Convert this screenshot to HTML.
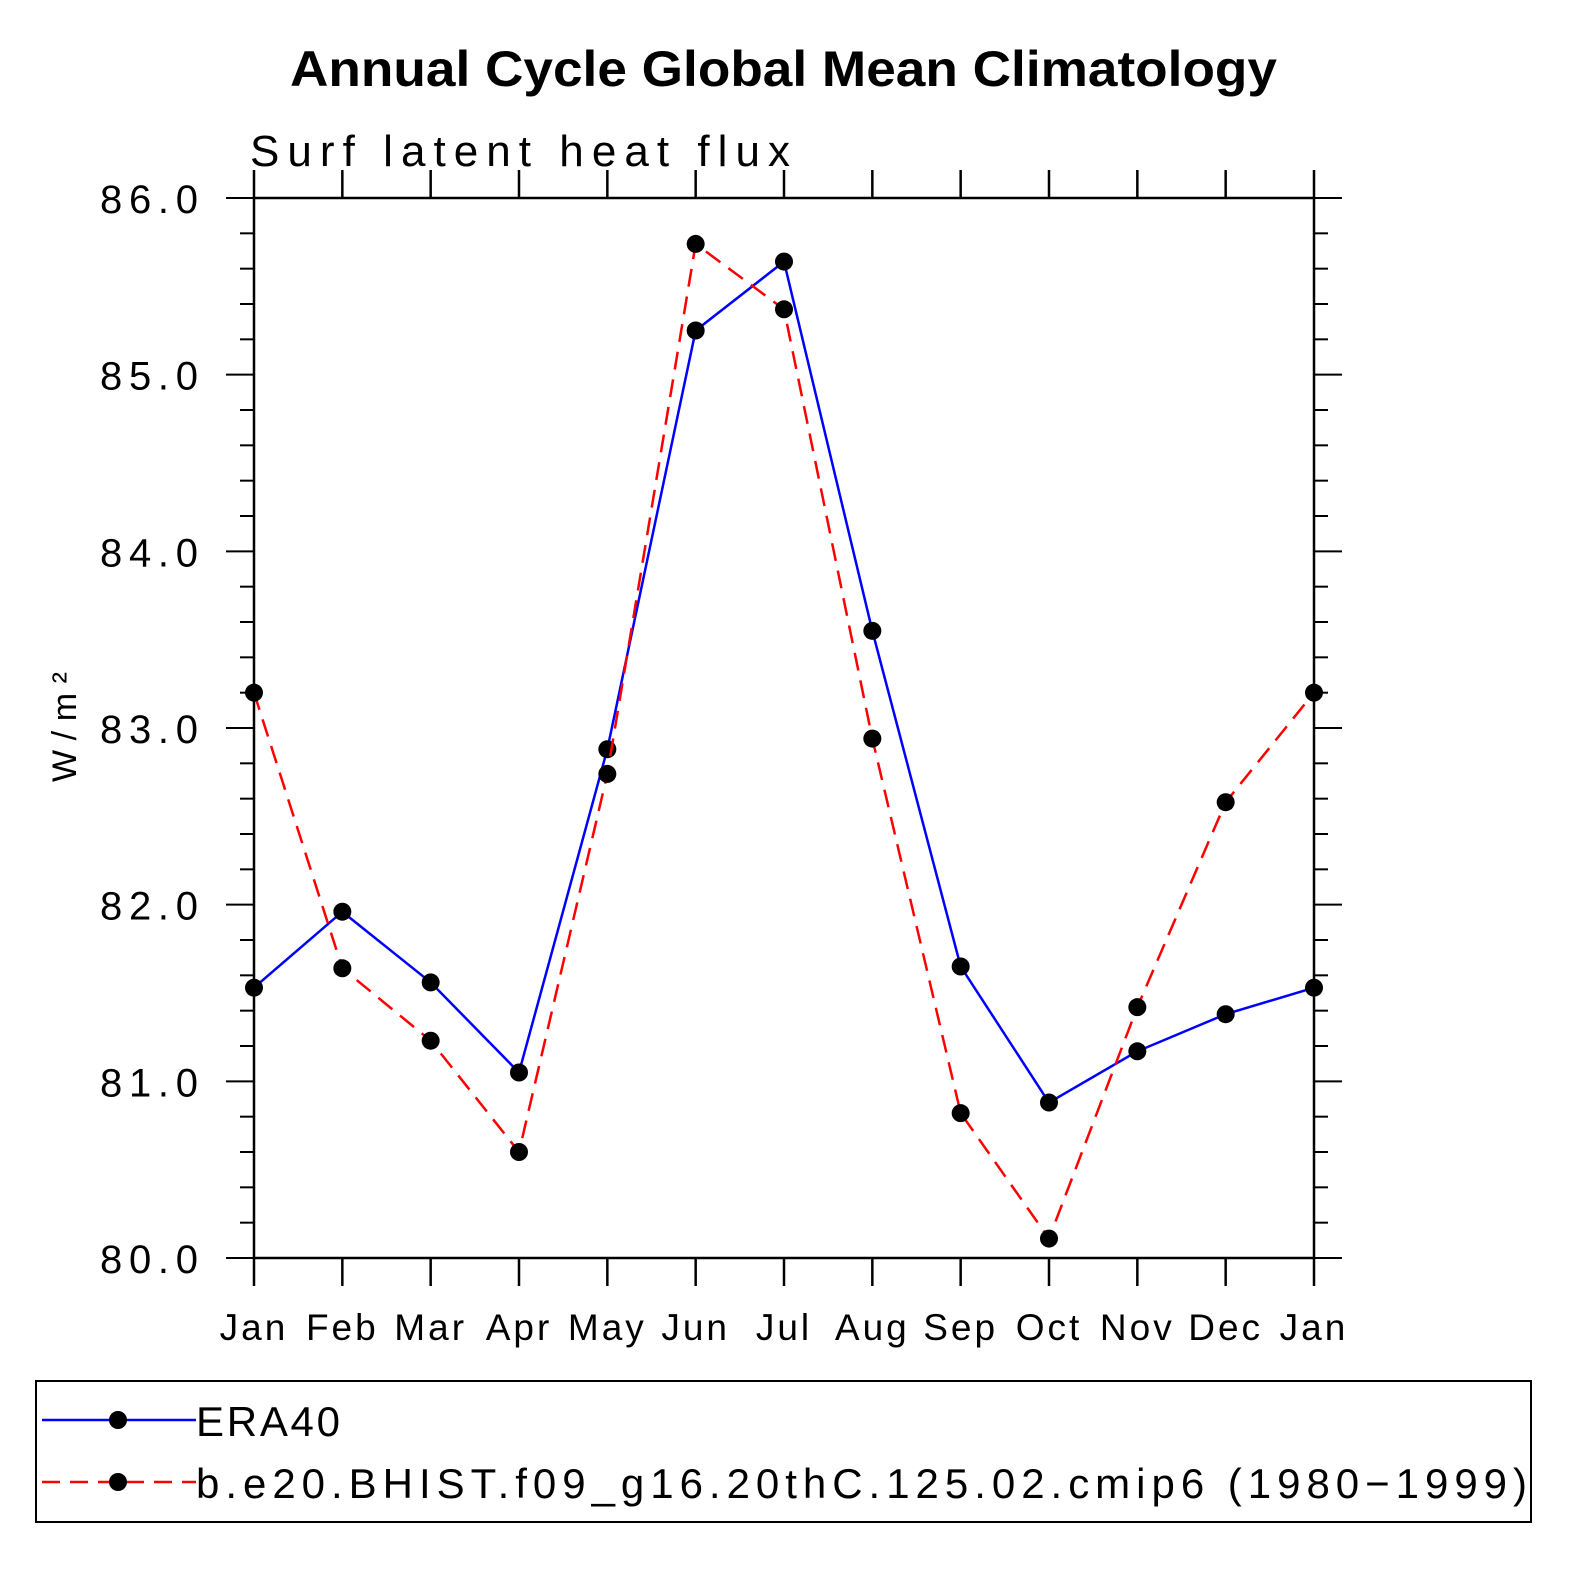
<!DOCTYPE html>
<html><head><meta charset="utf-8"><style>
html,body{margin:0;padding:0;background:#fff;}
svg{display:block;}
text{font-family:"Liberation Sans",sans-serif;}
</style></head><body>
<svg id="chart" width="1574" height="1574" viewBox="0 0 1574 1574" xmlns="http://www.w3.org/2000/svg">
<text x="290" y="86" font-size="50" font-weight="bold" textLength="987" lengthAdjust="spacingAndGlyphs">Annual Cycle Global Mean Climatology</text>
<text x="250" y="166" font-size="44" textLength="540" lengthAdjust="spacing">Surf latent heat flux</text>
<text transform="translate(76,782) rotate(-90)" font-size="34" textLength="110" lengthAdjust="spacing">W/m²</text>
<g id="axes"></g>
<g id="series"></g>
<rect x="36" y="1381" width="1495" height="141" fill="none" stroke="#000" stroke-width="2"/>
<g>
<line x1="42" y1="1420" x2="196" y2="1420" stroke="#00f" stroke-width="2.5"/>
<circle cx="118" cy="1420" r="9"/>
<text x="196" y="1436" font-size="42" textLength="144" lengthAdjust="spacing">ERA40</text>
</g>
<g>
<line x1="42" y1="1482" x2="196" y2="1482" stroke="#f00" stroke-width="2.5" stroke-dasharray="18,10"/>
<circle cx="118" cy="1482" r="9"/>
<text x="196" y="1498" font-size="42" textLength="1331" lengthAdjust="spacing">b.e20.BHIST.f09_g16.20thC.125.02.cmip6 (1980−1999)</text>
</g>
</svg>
<script>
const months = ["Jan","Feb","Mar","Apr","May","Jun","Jul","Aug","Sep","Oct","Nov","Dec","Jan"];
const era40 = [81.53,81.96,81.56,81.05,82.88,85.25,85.64,83.55,81.65,80.88,81.17,81.38,81.53];
const model = [83.20,81.64,81.23,80.60,82.74,85.74,85.37,82.94,80.82,80.11,81.42,82.58,83.20];
const yTicks = [80,81,82,83,84,85,86];
const NS="http://www.w3.org/2000/svg";
const X0=254,X1=1314,Y0=1258,Y1=198,ymin=80,ymax=86;
const xs=i=>X0+(X1-X0)*i/(months.length-1);
const ys=v=>Y0-(v-ymin)/(ymax-ymin)*(Y0-Y1);
function mk(tag,attrs,parent){const e=document.createElementNS(NS,tag);for(const k in attrs)e.setAttribute(k,attrs[k]);parent.appendChild(e);return e;}
const ax=document.getElementById('axes');
const frame=mk('rect',{x:X0,y:Y1,width:X1-X0,height:Y0-Y1,fill:'none',stroke:'#000','stroke-width':2.5},ax);


months.forEach((m,i)=>{
  const x=xs(i);
  mk('line',{x1:x,y1:Y0,x2:x,y2:Y0+28,stroke:'#000','stroke-width':2.5},ax);
  mk('line',{x1:x,y1:Y1,x2:x,y2:Y1-28,stroke:'#000','stroke-width':2.5},ax);
  const t=mk('text',{x:x,y:1340,'text-anchor':'middle','font-size':37,'letter-spacing':3},ax);
  t.textContent=m;
  
  
});
for(let v=ymin;v<=ymax+1e-9;v+=0.2){
  const y=ys(v);const major=Math.abs(v-Math.round(v))<1e-6;
  const L=major?28:14;
  mk('line',{x1:X0-L,y1:y,x2:X0,y2:y,stroke:'#000','stroke-width':2},ax);
  mk('line',{x1:X1,y1:y,x2:X1+L,y2:y,stroke:'#000','stroke-width':2},ax);
}
yTicks.forEach(v=>{
  const t=mk('text',{x:100,y:ys(v)+15,'font-size':40,textLength:98,lengthAdjust:'spacing'},ax);
  t.textContent=v.toFixed(1);
  
  
});
const sg=document.getElementById('series');
function draw(vals,color,dash,name){
  const pts=vals.map((v,i)=>xs(i)+','+ys(v)).join(' ');
  const pl=mk('polyline',{points:pts,fill:'none',stroke:color,'stroke-width':2.5},sg);
  if(dash)pl.setAttribute('stroke-dasharray',dash);
  
  
  vals.forEach((v,i)=>{
    const c=mk('circle',{cx:xs(i),cy:ys(v),r:9,fill:'#000'},sg);
    
    
  });
}
draw(era40,'#0000ff',null,'era40');
draw(model,'#ff0000','18,10','model');
</script>
</body></html>
